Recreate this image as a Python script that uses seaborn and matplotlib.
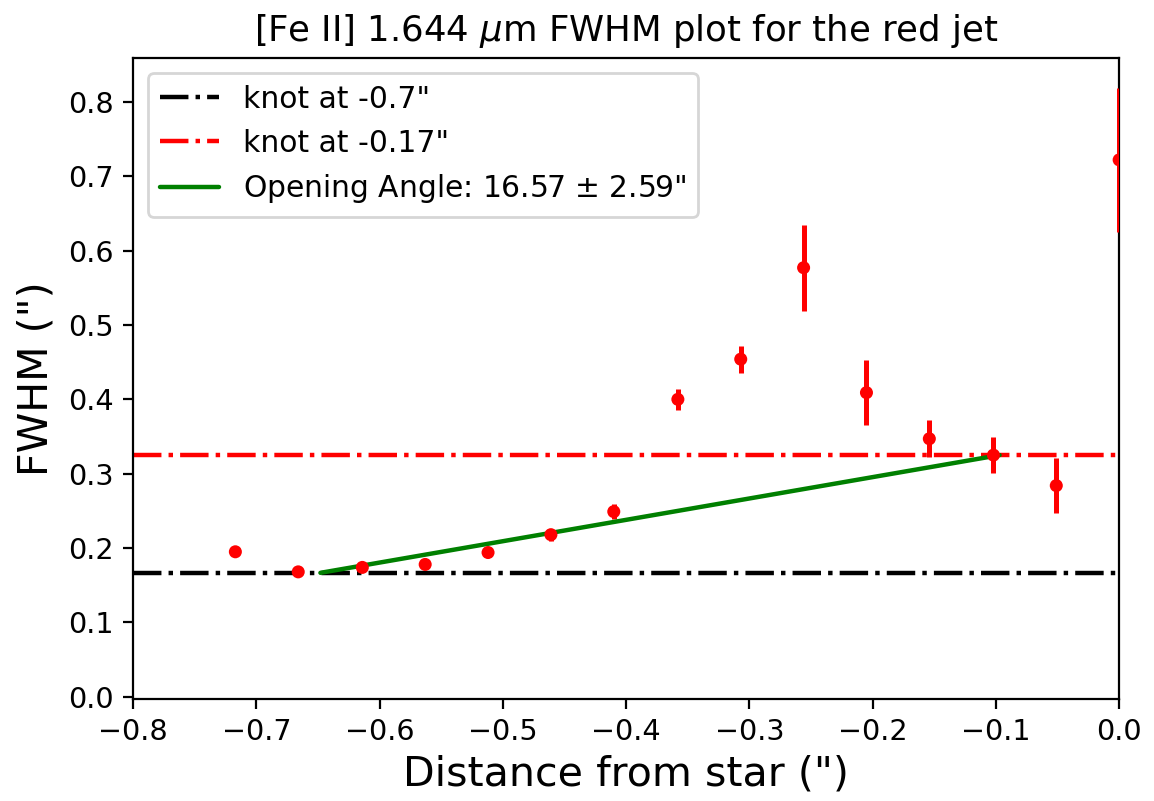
import numpy as np
import pandas as pd
import matplotlib
matplotlib.use("Agg")
import matplotlib.pyplot as plt
import seaborn as sns

distance = [-0.717, -0.666, -0.614, -0.563, -0.512, -0.461, -0.410, -0.358, -0.307, -0.256, -0.205, -0.154, -0.102, -0.051, 0.0]
fwhm = [0.195, 0.168, 0.174, 0.178, 0.194, 0.218, 0.249, 0.400, 0.454, 0.577, 0.409, 0.347, 0.325, 0.284, 0.722]
fwhm_err = [0.003, 0.003, 0.003, 0.003, 0.004, 0.008, 0.010, 0.014, 0.018, 0.058, 0.044, 0.025, 0.024, 0.037, 0.097]

knot1 = 0.1667
knot2 = 0.325
fit_x = [-0.648, -0.097]
fit_y = [0.1667, 0.325]
xticks = [-0.8, -0.7, -0.6, -0.5, -0.4, -0.3, -0.2, -0.1, 0.0]
yticks = [0.0, 0.1, 0.2, 0.3, 0.4, 0.5, 0.6, 0.7, 0.8]

sns.set_style("ticks")
plt.rcParams['font.family'] = ['DejaVu Sans']
plt.rcParams['text.color'] = 'black'
plt.rcParams['axes.labelcolor'] = 'black'
plt.rcParams['xtick.color'] = 'black'
plt.rcParams['ytick.color'] = 'black'

fig = plt.figure(figsize=(5.77, 4.005), dpi=200)
ax = fig.add_axes([0.1153, 0.1273, 0.8545, 0.8003])

df = pd.DataFrame({"x": distance, "y": fwhm, "err": fwhm_err})
ax.errorbar(df["x"], df["y"], yerr=df["err"], fmt='none', ecolor='red', elinewidth=1.8, capsize=0, zorder=3)
sns.scatterplot(data=df, x="x", y="y", color='red', s=22, edgecolor='none', ax=ax, zorder=4)

ax.axhline(knot1, color='black', ls='-.', lw=1.6, label='knot at -0.7"', zorder=2)
ax.axhline(knot2, color='red', ls='-.', lw=1.6, label='knot at -0.17"', zorder=2)
sns.lineplot(x=fit_x, y=fit_y, color='green', lw=1.6, ax=ax, label='Opening Angle: 16.57 $\\pm$ 2.59"', zorder=3)

ax.set_xlim(-0.8, 0.0)
ax.set_ylim(-0.003, 0.859)
ax.set_xticks(xticks)
ax.set_yticks(yticks)
ax.set_xticklabels([(f"{v:.1f}".replace("-", "\u2212") if v != 0 else "0.0") for v in xticks])
ax.set_yticklabels([f"{v:.1f}" for v in yticks])
ax.tick_params(labelsize=10.3, length=3.5, width=0.8, direction='out')
for s in ax.spines.values():
    s.set_linewidth(0.8)
    s.set_color('black')

ax.set_xlabel('Distance from star (")', fontsize=14.8, labelpad=3)
ax.set_ylabel('FWHM (")', fontsize=14.8)
ax.set_title('[Fe II] 1.644 $\\mu$m FWHM plot for the red jet', fontsize=12.8)
ax.legend(loc='upper left', fontsize=10.7, frameon=True)

fig.savefig("out.png", dpi=200)
